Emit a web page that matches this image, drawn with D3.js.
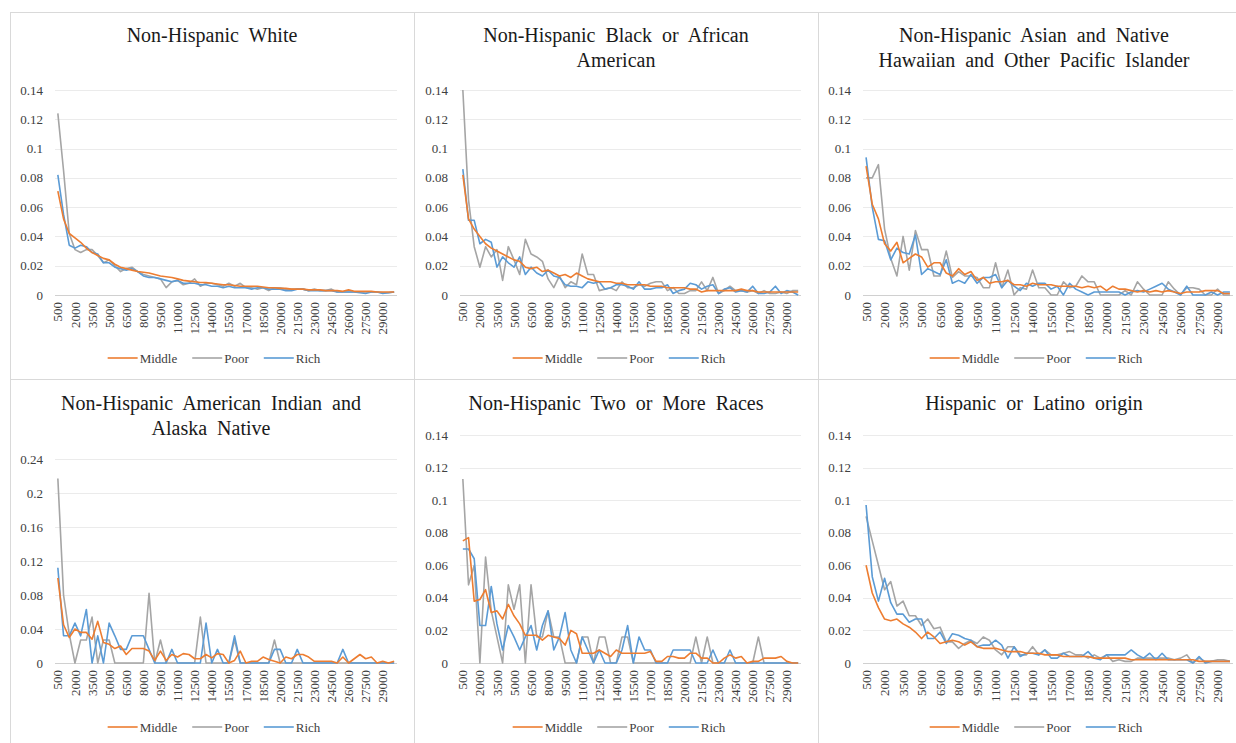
<!DOCTYPE html>
<html>
<head>
<meta charset="utf-8">
<script src="https://cdn.jsdelivr.net/npm/d3@7"></script>
<style>
  body { margin: 0; background: #fff; }
</style>
</head>
<body>
<div id="chart-area"></div>
<script>
// income categories (x axis)
var categories = [500,1000,1500,2000,2500,3000,3500,4000,4500,5000,5500,6000,6500,7000,7500,8000,8500,9000,9500,10000,
  10500,11000,11500,12000,12500,13000,13500,14000,14500,15000,15500,16000,16500,17000,17500,18000,18500,19000,19500,20000,
  20500,21000,21500,22000,22500,23000,23500,24000,24500,25000,25500,26000,26500,27000,27500,28000,28500,29000,29500,30000];

var seriesNames = ["Middle", "Poor", "Rich"];

var whiteMiddle = [.071,.052,.042,.039,.036,.032,.029,.027,.025,.024,.021,.019,.018,.017,.016,.0155,.015,.014,.013,.0125,
  .012,.011,.010,.0095,.009,.0085,.0085,.008,.0075,.007,.007,.0065,.006,.006,.006,.006,.0055,.005,.005,.0045,
  .0045,.004,.004,.004,.0035,.0035,.0035,.003,.003,.003,.0025,.0035,.0025,.0025,.0025,.0025,.002,.002,.002,.002];
var whitePoor = [.124,.085,.042,.031,.029,.031,.031,.027,.022,.024,.020,.016,.018,.019,.016,.014,.013,.012,.011,.005,
  .009,.010,.007,.008,.011,.006,.008,.008,.007,.006,.008,.006,.008,.005,.005,.004,.005,.003,.005,.005,
  .004,.004,.004,.004,.003,.004,.003,.003,.004,.002,.002,.002,.002,.002,.002,.002,.002,.0015,.0015,.002];
var whiteRich = [.082,.055,.034,.032,.034,.033,.029,.028,.022,.022,.019,.018,.017,.018,.016,.013,.012,.012,.011,.010,
  .009,.010,.008,.008,.008,.007,.007,.006,.006,.005,.006,.005,.005,.005,.004,.005,.005,.004,.004,.004,
  .003,.003,.004,.004,.003,.003,.003,.003,.003,.002,.002,.002,.002,.0015,.001,.002,.002,.001,.0015,.002];

var blackMiddle = [.082,.052,.045,.040,.035,.032,.030,.028,.026,.024,.023,.019,.018,.019,.016,.017,.015,.013,.014,.012,
  .015,.013,.011,.010,.009,.009,.009,.008,.008,.007,.007,.007,.007,.006,.006,.006,.005,.005,.005,.005,
  .004,.004,.002,.003,.003,.003,.003,.003,.003,.004,.003,.003,.002,.002,.002,.002,.002,.002,.002,.002];
var blackPoor = [.140,.065,.033,.019,.033,.026,.031,.010,.033,.024,.014,.038,.028,.026,.023,.011,.005,.013,.005,.009,
  .007,.028,.014,.014,.003,.004,.005,.003,.009,.005,.005,.007,.006,.008,.009,.009,.003,.005,.001,.001,
  .003,.003,.009,.003,.012,.001,.003,.006,.003,.003,.002,.003,.001,.003,.001,.001,.002,.001,.003,.003];
var blackRich = [.086,.051,.051,.035,.038,.036,.019,.026,.022,.019,.026,.014,.019,.015,.013,.017,.013,.012,.007,.006,
  .006,.005,.009,.008,.009,.004,.005,.007,.007,.006,.004,.009,.004,.004,.005,.005,.007,.001,.003,.004,
  .008,.007,.004,.006,.007,.001,.004,.005,.002,.003,.002,.006,.001,.001,.002,.006,.001,.003,.002,.000];

var asianMiddle = [.088,.062,.052,.035,.030,.036,.022,.025,.028,.026,.019,.022,.022,.015,.013,.018,.014,.016,.010,.012,
  .008,.009,.009,.010,.007,.007,.006,.008,.007,.007,.007,.006,.006,.006,.006,.005,.006,.005,.006,.003,
  .006,.004,.004,.003,.002,.003,.002,.003,.002,.003,.002,.001,.002,.002,.002,.003,.003,.003,.001,.001];
var asianPoor = [.080,.080,.089,.045,.025,.013,.040,.017,.044,.031,.031,.013,.013,.030,.012,.016,.013,.013,.012,.005,
  .005,.022,.005,.017,.000,.005,.004,.017,.005,.005,.000,.000,.009,.005,.006,.013,.009,.009,.000,.000,
  .000,.000,.003,.000,.009,.004,.000,.000,.000,.009,.004,.000,.005,.005,.004,.000,.000,.004,.000,.000];
var asianRich = [.094,.060,.038,.037,.024,.032,.029,.028,.041,.014,.018,.016,.014,.024,.008,.010,.008,.014,.008,.012,
  .012,.014,.005,.010,.006,.003,.008,.006,.008,.008,.004,.006,.000,.008,.004,.002,.000,.002,.002,.002,
  .002,.002,.000,.002,.003,.002,.004,.006,.008,.004,.002,.000,.006,.000,.000,.000,.002,.000,.002,.002];

var indianMiddle = [.100,.045,.030,.040,.036,.036,.028,.049,.024,.022,.017,.020,.010,.017,.017,.017,.014,.003,.014,.003,
  .010,.007,.011,.010,.005,.005,.010,.006,.011,.010,.000,.003,.014,.000,.002,.002,.007,.004,.002,.000,
  .007,.005,.010,.010,.007,.002,.002,.002,.002,.000,.007,.000,.005,.010,.005,.007,.000,.002,.000,.002];
var indianPoor = [.217,.080,.034,.000,.027,.027,.054,.000,.027,.027,.000,.000,.000,.000,.000,.000,.082,.000,.027,.000,
  .000,.000,.000,.000,.000,.054,.000,.000,.000,.000,.000,.027,.000,.000,.000,.000,.000,.000,.027,.000,
  .000,.000,.000,.000,.000,.000,.000,.000,.000,.000,.000,.000,.000,.000,.000,.000,.000,.000,.000,.000];
var indianRich = [.112,.032,.032,.047,.032,.063,.000,.032,.000,.047,.032,.016,.016,.032,.032,.032,.016,.000,.000,.000,
  .016,.000,.000,.000,.000,.000,.047,.000,.016,.000,.000,.032,.000,.000,.000,.000,.000,.000,.016,.016,
  .000,.000,.016,.000,.000,.000,.000,.000,.000,.000,.016,.000,.000,.000,.000,.000,.000,.000,.000,.000];

var twoMiddle = [.075,.077,.038,.039,.045,.031,.032,.027,.036,.029,.024,.017,.017,.017,.014,.017,.016,.015,.011,.020,
  .018,.006,.006,.006,.008,.006,.004,.008,.006,.006,.006,.006,.006,.007,.001,.001,.004,.004,.003,.003,
  .006,.006,.003,.003,.000,.000,.003,.005,.003,.004,.000,.001,.001,.003,.003,.003,.004,.001,.000,.000];
var twoPoor = [.113,.048,.060,.000,.065,.032,.016,.000,.048,.033,.048,.000,.048,.016,.016,.032,.016,.016,.000,.000,
  .000,.016,.016,.000,.016,.016,.000,.000,.016,.016,.000,.000,.000,.000,.000,.000,.000,.000,.000,.000,
  .000,.016,.000,.016,.000,.000,.000,.000,.000,.000,.000,.000,.016,.000,.000,.000,.000,.000,.000,.000];
var twoRich = [.070,.070,.064,.023,.023,.047,.024,.008,.023,.016,.008,.016,.023,.008,.023,.032,.008,.016,.031,.008,
  .000,.016,.008,.000,.008,.000,.000,.000,.008,.023,.000,.016,.008,.008,.000,.000,.000,.008,.008,.008,
  .008,.000,.000,.000,.008,.000,.000,.008,.000,.000,.000,.000,.000,.000,.000,.000,.000,.000,.000,.000];

var hispMiddle = [.060,.043,.034,.027,.026,.027,.024,.022,.019,.015,.019,.016,.012,.013,.014,.013,.011,.013,.010,.009,
  .009,.009,.008,.007,.007,.007,.006,.006,.006,.005,.005,.005,.004,.004,.004,.004,.004,.003,.003,.003,
  .003,.003,.003,.002,.002,.002,.002,.002,.002,.002,.002,.002,.002,.002,.001,.001,.001,.001,.001,.001];
var hispPoor = [.090,.075,.060,.045,.050,.035,.038,.029,.029,.023,.027,.021,.022,.013,.013,.009,.012,.014,.012,.016,
  .014,.008,.005,.010,.010,.005,.005,.010,.005,.008,.005,.005,.006,.007,.005,.005,.003,.005,.003,.005,
  .001,.002,.001,.001,.003,.003,.003,.003,.003,.003,.002,.003,.005,.000,.003,.001,.001,.002,.002,.001];
var hispRich = [.097,.053,.038,.052,.037,.030,.030,.025,.027,.027,.015,.015,.019,.012,.018,.017,.015,.014,.010,.011,
  .011,.014,.011,.003,.010,.004,.006,.006,.005,.008,.003,.003,.006,.004,.004,.004,.007,.003,.002,.005,
  .005,.005,.005,.008,.005,.003,.006,.002,.006,.002,.002,.002,.002,.000,.004,.000,.001,.001,.001,.001];

var colors = d3.scaleOrdinal().domain(seriesNames).range(["#ED7D31", "#A5A5A5", "#5B9BD5"]);

// pick a serif face if one is installed (falls back to the browser default)
var ctx = document.createElement("canvas").getContext("2d");
function widthIn(f) { ctx.font = "40px " + f; return ctx.measureText("Hispanic Wmli 0.14").width; }
var serif = ["'Liberation Serif'", "'DejaVu Serif'", "'Noto Serif'", "'Times New Roman'", "Tinos", "FreeSerif",
  "'Nimbus Roman'", "'Nimbus Roman No9 L'", "Times"].find(function(f) {
    return widthIn(f + ", monospace") !== widthIn("monospace");
  }) || "serif";

// panel layout
var panels = [
  {title: ["Non-Hispanic White"], data: [whiteMiddle, whitePoor, whiteRich], yMax: 0.14, step: 0.02,
   frame: [10, 12, 404, 367], px: [55, 397], py: [90, 295], tx: 212, ty: [42], ly: 358, lx: 214},
  {title: ["Non-Hispanic Black or African", "American"], data: [blackMiddle, blackPoor, blackRich], yMax: 0.14, step: 0.02,
   frame: [414, 12, 404, 367], px: [460, 801], py: [90, 295], tx: 616, ty: [42, 67], ly: 358, lx: 619},
  {title: ["Non-Hispanic Asian and Native", "Hawaiian and Other Pacific Islander"], data: [asianMiddle, asianPoor, asianRich], yMax: 0.14, step: 0.02,
   frame: [818, 12, 440, 367], px: [863, 1233], py: [90, 295], tx: 1034, ty: [42, 67], ly: 358, lx: 1036},
  {title: ["Non-Hispanic American Indian and", "Alaska Native"], data: [indianMiddle, indianPoor, indianRich], yMax: 0.24, step: 0.04,
   frame: [10, 379, 404, 380], px: [55, 397], py: [459, 663], tx: 211, ty: [410, 435], ly: 727, lx: 214},
  {title: ["Non-Hispanic Two or More Races"], data: [twoMiddle, twoPoor, twoRich], yMax: 0.14, step: 0.02,
   frame: [414, 379, 404, 380], px: [460, 801], py: [435, 663], tx: 616, ty: [410], ly: 727, lx: 619},
  {title: ["Hispanic or Latino origin"], data: [hispMiddle, hispPoor, hispRich], yMax: 0.14, step: 0.02,
   frame: [818, 379, 440, 380], px: [863, 1233], py: [435, 663], tx: 1034, ty: [410], ly: 727, lx: 1036}
];

var svg = d3.select("#chart-area").append("svg")
    .attr("width", 1236)
    .attr("height", 743)
    .attr("font-family", serif);

svg.append("rect").attr("width", 1236).attr("height", 743).attr("fill", "#fff");

panels.forEach(function(p) {
  var g = svg.append("g");

  g.append("rect")
      .attr("x", p.frame[0] + 0.5).attr("y", p.frame[1] + 0.5)
      .attr("width", p.frame[2]).attr("height", p.frame[3])
      .attr("fill", "#fff").attr("stroke", "#d9d9d9");

  var x = d3.scaleBand().domain(categories).range(p.px);
  var y = d3.scaleLinear().domain([0, p.yMax]).range([p.py[1], p.py[0]]);

  var ticks = d3.range(0, p.yMax + p.step / 2, p.step);

  // gridlines
  g.selectAll(".grid").data(ticks.slice(1)).enter().append("line")
      .attr("x1", p.px[0]).attr("x2", p.px[1])
      .attr("y1", function(d) { return Math.round(y(d)) + 0.5; })
      .attr("y2", function(d) { return Math.round(y(d)) + 0.5; })
      .attr("stroke", "#ebebeb");

  // y labels
  g.selectAll(".ylab").data(ticks).enter().append("text")
      .attr("x", p.px[0] - 12)
      .attr("y", function(d) { return y(d); })
      .attr("dy", "0.35em")
      .attr("text-anchor", "end")
      .attr("font-size", 13)
      .attr("fill", "#404040")
      .text(function(d) { return +d.toFixed(2); });

  // x axis
  var xAxis = d3.axisBottom(x)
      .tickValues(categories.filter(function(d, i) { return i % 3 === 0; }))
      .tickSize(0).tickPadding(0);
  var ax = g.append("g").attr("transform", "translate(0," + p.py[1] + ")").call(xAxis)
      .attr("font-family", serif);
  ax.select(".domain").attr("stroke", "#d0d0d0").attr("d", "M" + p.px[0] + ",0.5H" + p.px[1]);
  ax.selectAll("text")
      .attr("transform", "rotate(-90)")
      .attr("x", -7).attr("y", 0).attr("dy", "0.35em")
      .attr("text-anchor", "end")
      .attr("font-size", 13)
      .attr("fill", "#404040");

  // lines
  var line = d3.line()
      .x(function(d, i) { return x(categories[i]) + x.bandwidth() / 2; })
      .y(function(d) { return y(d); });

  [1, 2, 0].forEach(function(s) {
    g.append("path")
        .datum(p.data[s])
        .attr("fill", "none")
        .attr("stroke", colors(seriesNames[s]))
        .attr("stroke-width", 1.6)
        .attr("stroke-linejoin", "round")
        .attr("d", line);
  });

  // title
  g.selectAll(".title").data(p.title).enter().append("text")
      .attr("x", p.tx)
      .attr("y", function(d, i) { return p.ty[i]; })
      .attr("text-anchor", "middle")
      .attr("font-size", 20)
      .attr("word-spacing", 5)
      .attr("fill", "#1a1a1a")
      .text(function(d) { return d; });

  // legend
  var leg = g.append("g");
  var cx = 0;
  seriesNames.forEach(function(name, i) {
    leg.append("line")
        .attr("x1", cx).attr("x2", cx + 30)
        .attr("y1", 0).attr("y2", 0)
        .attr("stroke", colors(name)).attr("stroke-width", 1.6);
    var t = leg.append("text")
        .attr("x", cx + 32).attr("y", 0).attr("dy", "0.35em")
        .attr("font-size", 13)
        .attr("fill", "#404040")
        .text(name);
    cx += 32 + t.node().getComputedTextLength() + 15;
  });
  var w = cx - 15;
  leg.attr("transform", "translate(" + (p.lx - w / 2) + "," + p.ly + ")");
});
</script>
</body>
</html>
